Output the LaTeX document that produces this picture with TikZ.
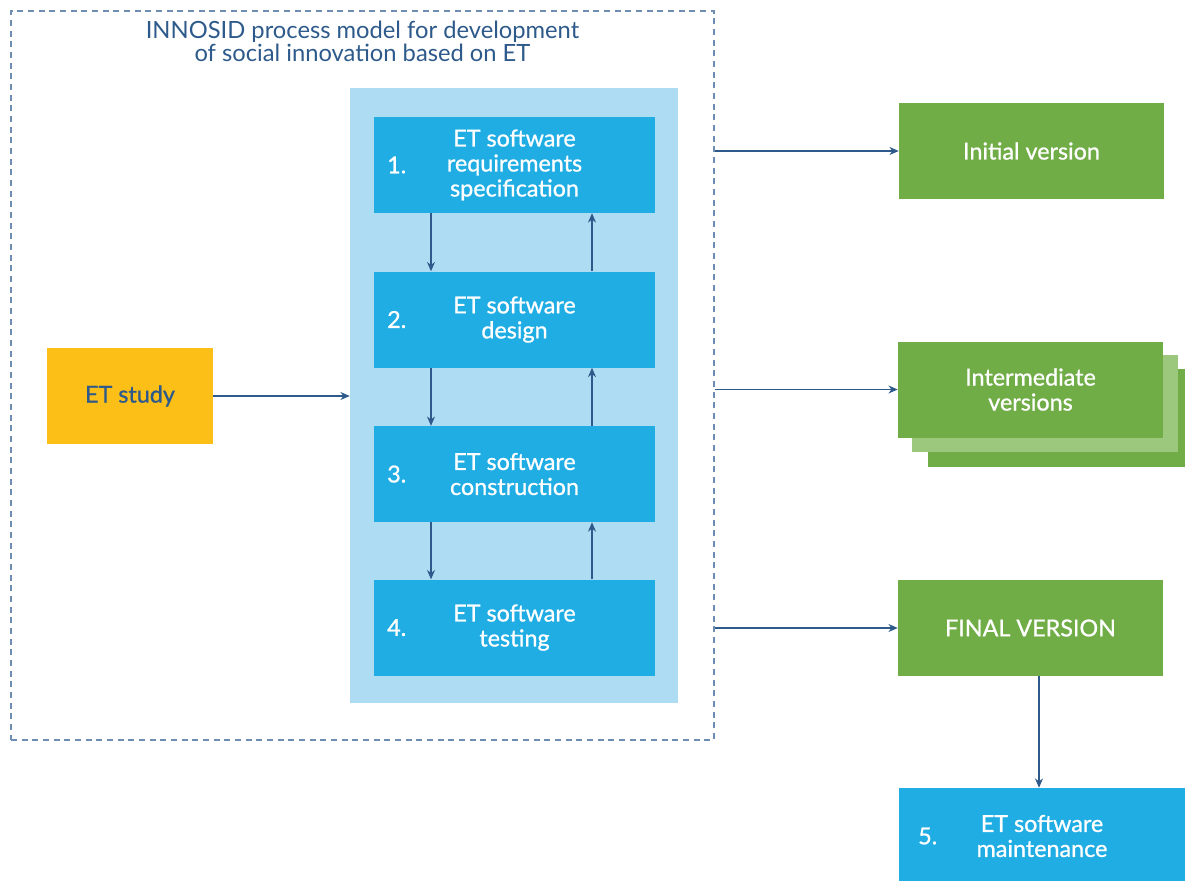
\documentclass[tikz,border=0pt]{standalone}
\usepackage{fontspec}
\setmainfont{Lato}
\newfontfamily\medface{Lato}[FakeBold=0.9]
\usetikzlibrary{arrows.meta, positioning}
\definecolor{etblue}{HTML}{1FADE4}
\definecolor{paleblue}{HTML}{AEDDF3}
\definecolor{etgreen}{HTML}{70AD47}
\definecolor{lightgreen}{HTML}{9CC87E}
\definecolor{etyellow}{HTML}{FCBF17}
\definecolor{navy}{HTML}{2D5A8B}
\definecolor{dashblue}{HTML}{6D8DB2}
\def\pu{0.75pt}
\tikzset{
  boxfont/.style={font=\medface\fontsize{17.5}{18.75}\selectfont},
  stage/.style={boxfont, fill=etblue, text=white, align=center, inner sep=0pt,
    minimum width=281*\pu, minimum height=96*\pu},
  version/.style={boxfont, fill=etgreen, text=white, align=center, inner sep=0pt,
    minimum width=265*\pu, minimum height=96*\pu},
  numtext/.style={boxfont, text=white, inner sep=0pt},
  flow/.style={navy, line width=0.8pt, -{Stealth[length=7pt,width=6pt]}}
}
\begin{document}
\begin{tikzpicture}[x=\pu, y=-\pu]
  \useasboundingbox (0,0) rectangle (1185,881);
  \clip (0,0) rectangle (1185,881);
  % frame of the process model
  \node[draw=dashblue, line width=0.8pt, dash pattern=on 4.5pt off 3.5pt,
    minimum width=703*\pu, minimum height=729*\pu] (outer) at (362.5,375.5) {};
  \node[below=6*\pu of outer.north, text=navy, align=center,
    font=\fontsize{17.8}{17.25}\selectfont] (title)
    {INNOSID process model for development\\of social innovation based on ET};
  % phases 1--4
  \node[fill=paleblue, minimum width=328*\pu, minimum height=615*\pu] (phases) at (514,395.5) {};
  \node[stage] (req) at (514.5,165) {ET software\\requirements\\specification};
  \node[stage, below=58*\pu of req] (design) {ET software\\design};
  \node[stage, below=58*\pu of design] (constr) {ET software\\construction};
  \node[stage, below=57*\pu of constr] (test) {ET software\\testing};
  \foreach \b/\n in {req/1., design/2., constr/3., test/4.}
    \node[numtext] (num-\b) at ([xshift=23*\pu]\b.west) {\n};
  \foreach \a/\b in {req/design, design/constr, constr/test}{
    \draw[flow] ([xshift=-83.5*\pu]\a.south) -- ([xshift=-83.5*\pu]\b.north);
    \draw[flow] ([xshift=77.5*\pu]\b.north) -- ([xshift=77.5*\pu]\a.south);
  }
  % input study
  \node[boxfont, fill=etyellow, text=navy, minimum width=166*\pu, minimum height=96*\pu]
    (study) at (130,396) {ET study};
  \draw[flow] (study.east) -- (study.east -| phases.west);
  % versions
  \node[version] (initial) at (1031.5,151) {Initial version};
  \node[fill=etgreen, minimum width=264*\pu, minimum height=98*\pu] (inter-b) at (1060,418) {};
  \node[fill=lightgreen, minimum width=266*\pu, minimum height=97*\pu] (inter-m) at (1045,403.5) {};
  \node[version] (inter) at (1030.5,389.5) {Intermediate\\versions};
  \node[version] (final) at (1030.5,628) {FINAL VERSION};
  \foreach \v in {initial, inter, final}
    \draw[flow] (outer.east |- \v.west) -- (\v.west);
  % maintenance
  \node[stage, minimum width=286*\pu] (maint) at (1042,836) {ET software\\maintenance};
  \node[numtext] (num-maint) at ([xshift=29*\pu]maint.west) {5.};
  \draw[flow] ([xshift=8.5*\pu]final.south) -- ([xshift=8.5*\pu]final.south |- maint.north);
\end{tikzpicture}
\end{document}
